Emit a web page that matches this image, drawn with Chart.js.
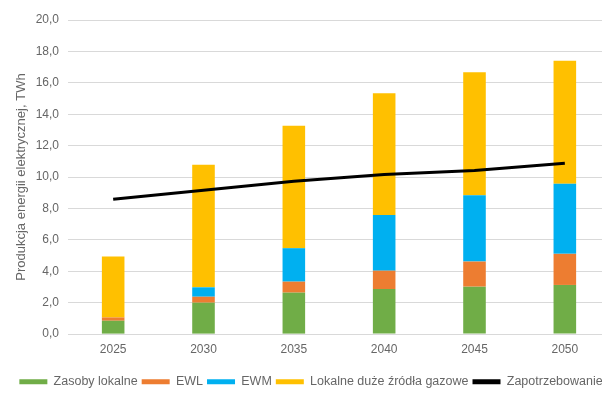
<!DOCTYPE html>
<html>
<head>
<meta charset="utf-8">
<script src="https://cdn.jsdelivr.net/npm/chart.js@4/dist/chart.umd.min.js"></script>
<style>
  html, body { margin: 0; padding: 0; background: #fff; overflow: hidden; width: 602px; height: 394px; }
  #wrap { position: absolute; left: 0; top: 0; width: 612px; height: 394px; }
</style>
</head>
<body>
<div id="wrap"><canvas id="c"></canvas></div>
<script>
const categories = ['2025', '2030', '2035', '2040', '2045', '2050'];
const zasobyLokalne = [0.85, 2.00, 2.64, 2.87, 3.02, 3.13];
const ewl = [0.21, 0.38, 0.70, 1.17, 1.60, 1.98];
const ewm = [0.00, 0.60, 2.13, 3.54, 4.22, 4.47];
const lokalneGazowe = [3.88, 7.80, 7.79, 7.75, 7.83, 7.82];
const zapotrzebowanie = [8.59, 9.16, 9.73, 10.17, 10.42, 10.88];
const seriesNames = ['Zasoby lokalne', 'EWL', 'EWM', 'Lokalne duże źródła gazowe', 'Zapotrzebowanie'];
const yTitle = 'Produkcja energii elektrycznej, TWh';

const txt = '#666666';
const font = { family: "'Liberation Sans', Arial, sans-serif", size: 12 };
const legendFont = { family: "'Liberation Sans', Arial, sans-serif", size: 12.5 };
const titleFont = { family: "'Liberation Sans', Arial, sans-serif", size: 13 };

const barCommon = { type: 'bar', stack: 'prod', barPercentage: 0.5, categoryPercentage: 0.5, borderWidth: 0 };

new Chart(document.getElementById('c'), {
  data: {
    labels: categories,
    datasets: [
      { ...barCommon, label: seriesNames[0], data: zasobyLokalne, backgroundColor: '#70AD47' },
      { ...barCommon, label: seriesNames[1], data: ewl, backgroundColor: '#ED7D31' },
      { ...barCommon, label: seriesNames[2], data: ewm, backgroundColor: '#00B0F0' },
      { ...barCommon, label: seriesNames[3], data: lokalneGazowe, backgroundColor: '#FFC000' },
      { type: 'line', stack: 'line', order: -1, label: seriesNames[4], data: zapotrzebowanie,
        borderColor: '#000000', backgroundColor: '#000000', borderWidth: 3, pointRadius: 0, tension: 0, fill: false }
    ]
  },
  options: {
    responsive: true,
    maintainAspectRatio: false,
    animation: false,
    layout: { padding: { left: 12, right: 2, top: 20, bottom: -4 } },
    plugins: {
      tooltip: { enabled: false },
      title: { display: false },
      legend: {
        position: 'bottom',
        labels: {
          boxWidth: 28,
          boxHeight: 5,
          padding: 4,
          color: txt,
          font: legendFont,
          generateLabels(chart) {
            return chart.data.datasets.map((ds, i) => ({
              text: ds.label,
              fillStyle: ds.type === 'line' ? '#000000' : ds.backgroundColor,
              strokeStyle: ds.type === 'line' ? '#000000' : ds.backgroundColor,
              lineWidth: 0,
              hidden: !chart.isDatasetVisible(i),
              datasetIndex: i,
              fontColor: txt
            }));
          }
        }
      }
    },
    scales: {
      x: {
        stacked: true,
        grid: { display: false, drawTicks: false },
        border: { display: false },
        ticks: { color: txt, font: font, padding: 8 },
        afterFit(scale) { scale.height += 7; }
      },
      y: {
        stacked: true,
        min: 0,
        max: 20,
        ticks: {
          stepSize: 2,
          color: txt,
          font: font,
          padding: 9,
          callback: v => v.toFixed(1).replace('.', ',')
        },
        grid: { color: '#D9D9D9', lineWidth: 1, drawTicks: false },
        border: { display: false },
        title: { display: true, text: yTitle, color: txt, font: titleFont, padding: { top: 2, bottom: 4 } },
        afterFit(scale) { scale.width = 56; }
      }
    }
  }
});
</script>
</body>
</html>
